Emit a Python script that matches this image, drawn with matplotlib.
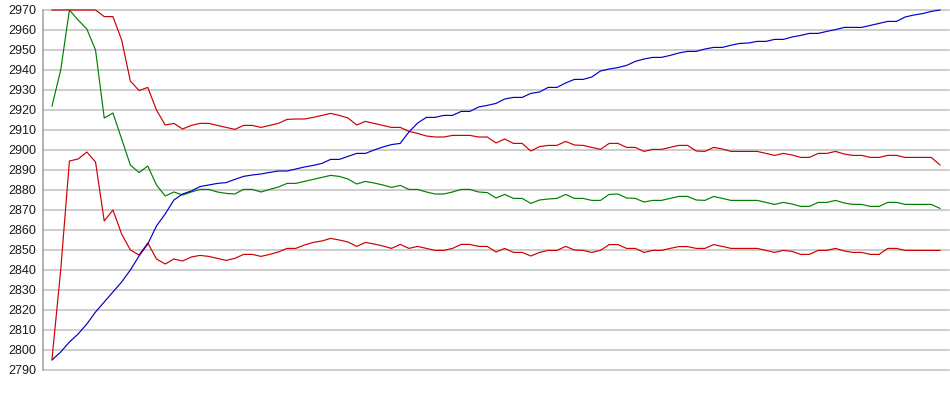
import matplotlib
matplotlib.use("Agg")
import matplotlib.pyplot as plt

# values (one point per step)
blue = [2795, 2799, 2804, 2808, 2813, 2819, 2824, 2829, 2834, 2840,
        2847, 2853, 2862, 2868, 2875, 2878, 2879.5, 2881.7, 2882.5, 2883.3,
        2883.7, 2885.3, 2886.8, 2887.5, 2888, 2888.8, 2889.5, 2889.5, 2890.5, 2891.5,
        2892.3, 2893.3, 2895.3, 2895.3, 2896.8, 2898.3, 2898.3, 2900, 2901.5, 2902.7,
        2903.3, 2909, 2913.5, 2916.3, 2916.3, 2917.3, 2917.3, 2919.3, 2919.3, 2921.5,
        2922.3, 2923.3, 2925.5, 2926.3, 2926.3, 2928.3, 2929, 2931.3, 2931.3, 2933.5,
        2935.3, 2935.3, 2936.5, 2939.5, 2940.5, 2941.2, 2942.3, 2944.3, 2945.5, 2946.3,
        2946.3, 2947.3, 2948.5, 2949.3, 2949.3, 2950.5, 2951.3, 2951.3, 2952.4, 2953.3,
        2953.5, 2954.3, 2954.3, 2955.3, 2955.3, 2956.5, 2957.3, 2958.3, 2958.3, 2959.3,
        2960.2, 2961.3, 2961.3, 2961.3, 2962.3, 2963.3, 2964.3, 2964.3, 2966.5, 2967.5,
        2968.2, 2969.3, 2970]

green = [2922, 2940, 2970, 2965, 2960.5, 2950, 2916, 2918.5, 2905.5, 2892.5,
         2888.7, 2892, 2882.5, 2877, 2879, 2877.5, 2879, 2880.3, 2880.3, 2879,
         2878.3, 2878, 2880.3, 2880.3, 2879, 2880.3, 2881.5, 2883.3, 2883.3, 2884.3,
         2885.3, 2886.3, 2887.3, 2886.8, 2885.5, 2883, 2884.3, 2883.5, 2882.5, 2881.3,
         2882.3, 2880.3, 2880.3, 2879, 2878, 2878, 2879, 2880.3, 2880.3, 2879,
         2878.7, 2876, 2877.8, 2875.8, 2875.8, 2873.3, 2875, 2875.5, 2875.8, 2877.8,
         2875.8, 2875.8, 2874.8, 2874.8, 2877.8, 2878, 2876, 2875.8, 2874, 2874.8,
         2874.8, 2875.8, 2876.8, 2876.8, 2875, 2874.8, 2876.8, 2875.8, 2874.8, 2874.8,
         2874.8, 2874.8, 2873.8, 2872.8, 2873.8, 2873, 2871.8, 2871.8, 2873.8, 2873.8,
         2874.8, 2873.5, 2872.8, 2872.8, 2871.8, 2871.8, 2873.8, 2873.8, 2872.8, 2872.8,
         2872.8, 2872.8, 2870.8]

upper = [2970, 2970, 2970, 2970, 2970, 2970, 2966.7, 2966.7, 2955, 2934.5,
         2929.7, 2931.3, 2920, 2912.5, 2913.3, 2910.5, 2912.3, 2913.3, 2913.3, 2912.3,
         2911.3, 2910.3, 2912.3, 2912.3, 2911.3, 2912.3, 2913.3, 2915.3, 2915.5, 2915.5,
         2916.3, 2917.3, 2918.3, 2917.3, 2916, 2912.5, 2914.3, 2913.3, 2912.3, 2911.3,
         2911.3, 2909.3, 2908.3, 2907, 2906.5, 2906.5, 2907.3, 2907.3, 2907.3, 2906.5,
         2906.5, 2903.5, 2905.5, 2903.3, 2903.3, 2899.5, 2901.7, 2902.3, 2902.3, 2904.3,
         2902.5, 2902.3, 2901.3, 2900.3, 2903.3, 2903.3, 2901.3, 2901.3, 2899.3, 2900.3,
         2900.3, 2901.3, 2902.3, 2902.3, 2899.5, 2899.3, 2901.3, 2900.5, 2899.3, 2899.3,
         2899.3, 2899.3, 2898.3, 2897.3, 2898.3, 2897.5, 2896.3, 2896.3, 2898.3, 2898.3,
         2899.3, 2898, 2897.3, 2897.3, 2896.3, 2896.3, 2897.3, 2897.3, 2896.3, 2896.3,
         2896.3, 2896.3, 2892.5]

lower = [2795.5, 2840, 2894.5, 2895.5, 2899, 2894, 2864.5, 2870, 2858, 2850,
         2847.5, 2853.5, 2845.5, 2843, 2845.5, 2844.5, 2846.5, 2847.3, 2846.8, 2845.8,
         2844.8, 2845.8, 2847.8, 2847.8, 2846.8, 2847.8, 2849, 2850.8, 2850.8, 2852.5,
         2853.8, 2854.5, 2855.8, 2855, 2854, 2851.8, 2853.8, 2853, 2852, 2850.8,
         2852.8, 2850.8, 2851.8, 2850.8, 2849.8, 2849.8, 2850.8, 2852.8, 2852.8, 2851.8,
         2851.8, 2849, 2850.8, 2848.8, 2848.8, 2847, 2848.8, 2849.8, 2849.8, 2851.8,
         2850, 2849.8, 2848.8, 2849.8, 2852.7, 2852.7, 2850.8, 2850.8, 2848.8, 2849.8,
         2849.8, 2850.8, 2851.7, 2851.7, 2850.8, 2850.8, 2852.7, 2851.8, 2850.8, 2850.8,
         2850.8, 2850.8, 2849.8, 2848.8, 2849.8, 2849.3, 2847.8, 2847.8, 2849.8, 2849.8,
         2850.8, 2849.5, 2848.8, 2848.8, 2847.8, 2847.8, 2850.8, 2850.8, 2849.8, 2849.8,
         2849.8, 2849.8, 2849.8]

yticks = list(range(2790, 2971, 10))

fig = plt.figure(figsize=(9.5, 3.95), dpi=100)
ax = fig.add_axes([43 / 950, 25 / 395, 906 / 950, 360 / 395])

x = list(range(len(blue)))
step = 102 / 888  # data units per pixel
ax.set_xlim(-9 * step, 102 + 9 * step)
ax.set_ylim(2790, 2970)

# grid
for v in yticks:
    ax.axhline(v, color="#c0c0c0", lw=1.1, zorder=0, clip_on=False)

lw = 0.85
ax.plot(x, upper, color="#cc0000", lw=lw, clip_on=False)
ax.plot(x, lower, color="#cc0000", lw=lw, clip_on=False)
ax.plot(x, green, color="#008000", lw=lw, clip_on=False)
ax.plot(x, blue, color="#0000cc", lw=lw, clip_on=False)

for s in ["top", "right", "bottom"]:
    ax.spines[s].set_visible(False)
ax.spines["left"].set_color("#a0a0a0")
ax.spines["left"].set_linewidth(1.1)

ax.set_xticks([])
ax.set_yticks(yticks)
ax.tick_params(axis="y", length=0, pad=5, labelsize=9, labelcolor="#1a1a1a")
for lab in ax.get_yticklabels():
    lab.set_family("Liberation Sans")

fig.savefig("out.png", dpi=100)
